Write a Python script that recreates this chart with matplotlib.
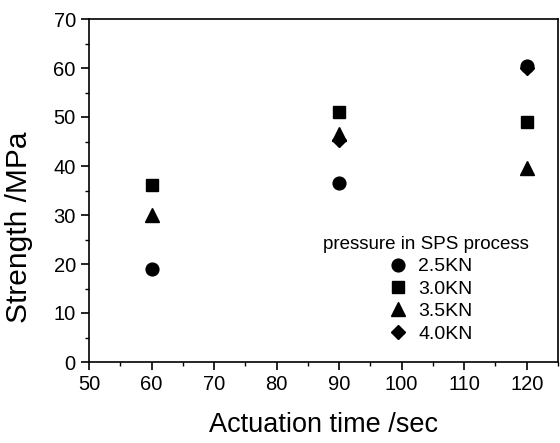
import numpy as np
import matplotlib
matplotlib.use("Agg")
import matplotlib.pyplot as plt
from matplotlib.ticker import MultipleLocator

plt.rcParams["font.family"] = ["Liberation Sans", "DejaVu Sans"]

# actuation time (s) and strength (MPa) per SPS pressure
time_s = [60, 90, 120]
labels = ["2.5KN", "3.0KN", "3.5KN", "4.0KN"]
strength_25 = [18.9, 36.5, 60.5]
strength_30 = [36.2, 51.0, 49.0]
strength_35 = [30.0, 46.5, 39.5]
time_40 = [90, 120]
strength_40 = [45.3, 60.0]

fig = plt.figure(figsize=(5.6, 4.43), dpi=100, facecolor="white")
ax = fig.add_axes([89 / 560, 81 / 443, 469 / 560, 343 / 443])

ax.plot(time_s, strength_25, "o", ms=9.2, color="black", label=labels[0])
ax.plot(time_s, strength_30, "s", ms=8.0, color="black", label=labels[1])
ax.plot(time_s, strength_35, "^", ms=10.5, color="black", label=labels[2])
ax.plot(time_40, strength_40, "D", ms=7.5, color="black", label=labels[3])

ax.set_xlim(50, 125)
ax.set_ylim(0, 70)
ax.xaxis.set_major_locator(MultipleLocator(10))
ax.xaxis.set_minor_locator(MultipleLocator(5))
ax.yaxis.set_major_locator(MultipleLocator(10))
ax.yaxis.set_minor_locator(MultipleLocator(5))
ax.tick_params(which="major", direction="out", length=5.5, width=1.2,
               labelsize=14.5, pad=4)
ax.tick_params(which="minor", direction="out", length=2.8, width=1.0)
for s in ax.spines.values():
    s.set_linewidth(1.2)

ax.set_xlabel("Actuation time /sec", fontsize=19.5)
ax.set_ylabel("Strength /MPa", fontsize=21.5)
ax.xaxis.set_label_coords(0.5, -0.146)
ax.yaxis.set_label_coords(-0.119, 0.392)

leg = ax.legend(title="pressure in SPS process", frameon=False, fontsize=14,
                title_fontsize=13.5, loc="center",
                bbox_to_anchor=(0.7175, 0.212), handlelength=2.0,
                handletextpad=0.05, labelspacing=0.25)

fig.savefig("out.png", dpi=100)
